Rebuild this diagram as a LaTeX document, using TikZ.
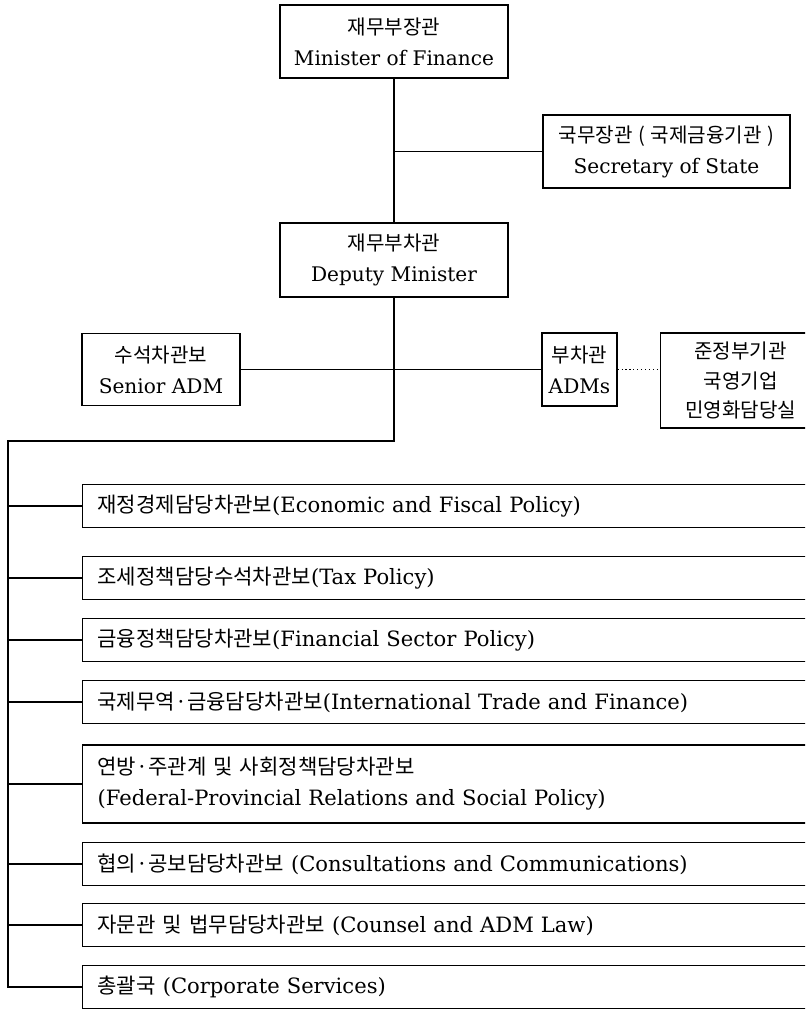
\documentclass[tikz,border=0pt]{standalone}
\usepackage{fontspec}
\setmainfont{DejaVu Serif}
\newfontfamily\kr{Noto Sans CJK KR}
\usetikzlibrary{positioning}
\newcommand{\ko}[1]{{\kr #1}}

\begin{document}
\begin{tikzpicture}[x=0.025cm,y=-0.025cm,line width=0.8pt,
		box/.style={draw,align=center,inner sep=0pt,font=\fontsize{14.3}{22}\selectfont},
		unitbox/.style={draw,anchor=west,align=left,text width=18cm,inner xsep=0.375cm,inner ysep=0pt,minimum height=1.075cm,font=\fontsize{15}{22}\selectfont}]
		\useasboundingbox (0,0) rectangle (805,1016);
		\clip (0,0) rectangle (805,1016);
		% top offices
		\node[box,minimum width=5.7cm,minimum height=1.825cm] (minister) at (394,41.5) {\ko{재무부장관}\\Minister of Finance};
		\node[box,minimum width=6.175cm,minimum height=1.825cm] (secretary) at (666.5,151.5) {\ko{국무장관\kern4pt(\kern4pt국제금융기관\kern4pt)}\\Secretary of State};
		\node[box,minimum width=5.7cm,minimum height=1.85cm] (deputy) at (394,260) {\ko{재무부차관}\\Deputy Minister};
		\node[box,minimum width=3.95cm,minimum height=1.8cm] (senior) at (161,369.5) {\ko{수석차관보}\\Senior ADM};
		\node[box,minimum width=1.875cm,minimum height=1.825cm] (adms) at (579.5,369.5) {\ko{부차관}\\ADMs};
		\node[box,anchor=west,minimum width=4cm,minimum height=2.375cm,font=\fontsize{14.3}{21}\selectfont] (agencies) at (660,380.5) {\ko{준정부기관}\\\ko{국영기업}\\\ko{민영화담당실}};
		% assistant deputy ministers
		\node[unitbox] (u1) at (82,506) {\ko{재정경제담당차관보}(Economic and Fiscal Policy)};
		\node[unitbox] (u2) at (82,578) {\ko{조세정책담당수석차관보}(Tax Policy)};
		\node[unitbox] (u3) at (82,640) {\ko{금융정책담당차관보}(Financial Sector Policy)};
		\node[unitbox] (u4) at (82,702) {\ko{국제무역·금융담당차관보}(International Trade and Finance)};
		\node[unitbox,minimum height=1.95cm] (u5) at (82,784) {\ko{연방·주관계 및 사회정책담당차관보}\\(Federal-Provincial Relations and Social Policy)};
		\node[unitbox] (u6) at (82,864) {\ko{협의·공보담당차관보} (Consultations and Communications)};
		\node[unitbox] (u7) at (82,925) {\ko{자문관 및 법무담당차관보} (Counsel and ADM Law)};
		\node[unitbox] (u8) at (82,987) {\ko{총괄국} (Corporate Services)};
		% lines
		\coordinate (turn) at (394,441);
		\coordinate (corner) at (8,441);
		\draw (minister) -- (deputy);
		\draw (minister.south |- secretary.west) -- (secretary.west);
		\draw (senior.east) -- (adms.west);
		\draw[dotted] (adms.east) -- (adms.east -| agencies.west);
		\draw (deputy.south) -- (turn) -- (corner) |- (u8.west);
		\foreach \u in {u1,u2,u3,u4,u5,u6,u7}
			\draw (corner |- \u.west) -- (\u.west);
\end{tikzpicture}
\end{document}
